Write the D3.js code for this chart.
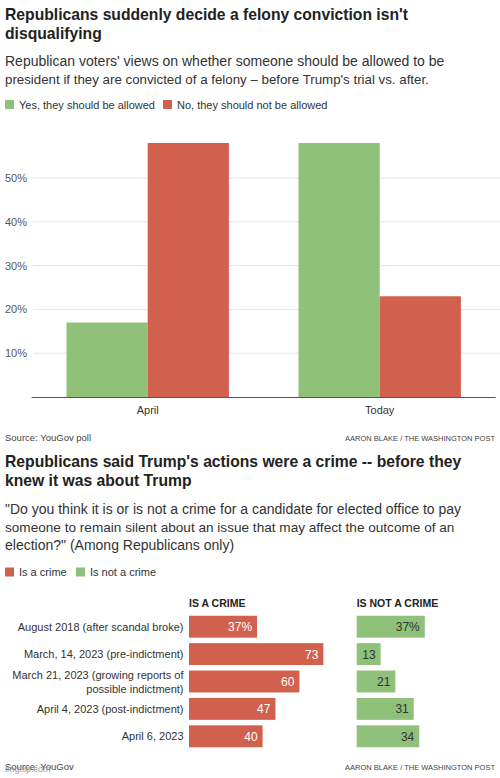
<!DOCTYPE html>
<html><head><meta charset="utf-8">
<script src="https://cdn.jsdelivr.net/npm/d3@7"></script>
<style>
body{margin:0;background:#fff;}
svg{display:block;font-family:"Liberation Sans",Arial,sans-serif;}
</style></head>
<body>
<svg id="c" width="500" height="778"></svg>
<script>
// ---- Chart 1 data ----
const periods = ["April", "Today"];
const seriesNames1 = ["Yes, they should be allowed", "No, they should not be allowed"];
const yesValues = [17, 58];
const noValues = [58, 23];
const yTicks = [10, 20, 30, 40, 50];

// ---- Chart 2 data ----
const pollLabels = [
  ["August 2018 (after scandal broke)"],
  ["March, 14, 2023 (pre-indictment)"],
  ["March 21, 2023 (growing reports of", "possible indictment)"],
  ["April 4, 2023 (post-indictment)"],
  ["April 6, 2023"]
];
const isCrime = [37, 73, 60, 47, 40];
const notCrime = [37, 13, 21, 31, 34];
const seriesNames2 = ["Is a crime", "Is not a crime"];

const GREEN = "#8fc17a", RED = "#d2604e";
const svg = d3.select("#c");

function addText(x, y, str, opts) {
  const t = svg.append("text").attr("x", x).attr("y", y).text(str);
  for (const k in opts) t.attr(k, opts[k]);
  return t;
}

const TITLE = {"font-size": 15.7, "font-weight": 700, fill: "#222"};
// ---- Header 1 ----
addText(5, 20, "Republicans suddenly decide a felony conviction isn't", TITLE);
addText(5, 39, "disqualifying", TITLE);
addText(5, 66, "Republican voters' views on whether someone should be allowed to be", {"font-size": 14, fill: "#333"});
addText(5, 84, "president if they are convicted of a felony – before Trump's trial vs. after.", {"font-size": 13.3, fill: "#333"});

// legend 1
const leg1 = [[seriesNames1[0], GREEN, 5], [seriesNames1[1], RED, 163]];
leg1.forEach(([n, c, x]) => {
  svg.append("rect").attr("x", x).attr("y", 100).attr("width", 9).attr("height", 9).attr("fill", c);
  addText(x + 14, 108.5, n, {"font-size": 11, fill: "#333"});
});

// ---- Chart 1 ----
const x0 = d3.scaleBand().domain(periods).range([31.7, 495.7]).paddingInner(0.3).paddingOuter(0.15);
const x1 = d3.scaleBand().domain([0, 1]).range([0, x0.bandwidth()]);
const y = d3.scaleLinear().domain([0, 10]).range([397, 353.2]);

const grid = svg.append("g");
yTicks.forEach(t => {
  grid.append("line").attr("x1", 33).attr("x2", 500).attr("y1", y(t)).attr("y2", y(t))
    .attr("stroke", "#e6e6e6").attr("stroke-width", 1);
  addText(5, y(t) + 4, t + "%", {"font-size": 11, fill: "#555"});
});

const groups = svg.append("g").selectAll("g").data(periods).join("g")
  .attr("transform", d => `translate(${x0(d)},0)`);
groups.selectAll("rect").data((d, i) => [yesValues[i], noValues[i]]).join("rect")
  .attr("x", (d, j) => x1(j)).attr("width", x1.bandwidth())
  .attr("y", d => y(d)).attr("height", d => y(0) - y(d))
  .attr("fill", (d, j) => j === 0 ? GREEN : RED);

svg.append("line").attr("x1", 31.7).attr("x2", 495.7).attr("y1", 397.5).attr("y2", 397.5)
  .attr("stroke", "#555").attr("stroke-width", 1);
periods.forEach(p => addText(x0(p) + x0.bandwidth() / 2, 414, p, {"font-size": 11, fill: "#333", "text-anchor": "middle"}));

addText(5, 441, "Source: YouGov poll", {"font-size": 9.5, fill: "#444"});
addText(495, 441, "AARON BLAKE / THE WASHINGTON POST", {"font-size": 7.5, fill: "#444", "text-anchor": "end"});

// ---- Header 2 ----
addText(5, 467, "Republicans said Trump's actions were a crime -- before they", TITLE);
addText(5, 486, "knew it was about Trump", TITLE);
addText(5, 514, "\"Do you think it is or is not a crime for a candidate for elected office to pay", {"font-size": 14, fill: "#333"});
addText(5, 532, "someone to remain silent about an issue that may affect the outcome of an", {"font-size": 13.6, fill: "#333"});
addText(5, 550, "election?\" (Among Republicans only)", {"font-size": 14, fill: "#333"});

const leg2 = [[seriesNames2[0], RED, 5], [seriesNames2[1], GREEN, 76]];
leg2.forEach(([n, c, x]) => {
  svg.append("rect").attr("x", x).attr("y", 567.5).attr("width", 9).attr("height", 9).attr("fill", c);
  addText(x + 14, 576, n, {"font-size": 11, fill: "#333"});
});

// ---- Chart 2 ----
const rowY = d3.scaleBand().domain(d3.range(pollLabels.length)).range([615.7 - 2.7, 725.3 + 22 + 2.7]).paddingInner(0.2).paddingOuter(0.1);
const bh = rowY.bandwidth();
const w = d3.scaleLinear().domain([0, 100]).range([0, 184]);
const leftX = 189, rightX = 356.7;

addText(leftX, 607, "IS A CRIME", {"font-size": 10.5, "font-weight": 700, fill: "#222"});
addText(rightX, 607, "IS NOT A CRIME", {"font-size": 10.5, "font-weight": 700, fill: "#222"});

pollLabels.forEach((lines, i) => {
  const cy = rowY(i) + bh / 2;
  const lh = 14;
  lines.forEach((ln, k) => {
    addText(183.5, cy + 4 + (k - (lines.length - 1) / 2) * lh, ln, {"font-size": 11, fill: "#333", "text-anchor": "end"});
  });
});

svg.append("g").selectAll("rect").data(isCrime).join("rect")
  .attr("x", leftX).attr("y", (d, i) => rowY(i)).attr("height", bh).attr("width", d => w(d)).attr("fill", RED);
svg.append("g").selectAll("text").data(isCrime).join("text")
  .attr("x", d => leftX + w(d) - 5).attr("y", (d, i) => rowY(i) + bh / 2 + 4.5)
  .attr("text-anchor", "end").attr("font-size", 12).attr("fill", "#fff")
  .text((d, i) => i === 0 ? d + "%" : d);

svg.append("g").selectAll("rect").data(notCrime).join("rect")
  .attr("x", rightX).attr("y", (d, i) => rowY(i)).attr("height", bh).attr("width", d => w(d)).attr("fill", GREEN);
svg.append("g").selectAll("text").data(notCrime).join("text")
  .attr("x", d => rightX + w(d) - 5).attr("y", (d, i) => rowY(i) + bh / 2 + 4.5)
  .attr("text-anchor", "end").attr("font-size", 12).attr("fill", "#333")
  .text((d, i) => i === 0 ? d + "%" : d);

addText(5, 770, "Source: YouGov", {"font-size": 9.5, fill: "#444"});
addText(5, 772, "imgflip.com", {"font-size": 9, fill: "#999"});
addText(495, 770, "AARON BLAKE / THE WASHINGTON POST", {"font-size": 7.5, fill: "#444", "text-anchor": "end"});
</script>
</body></html>
